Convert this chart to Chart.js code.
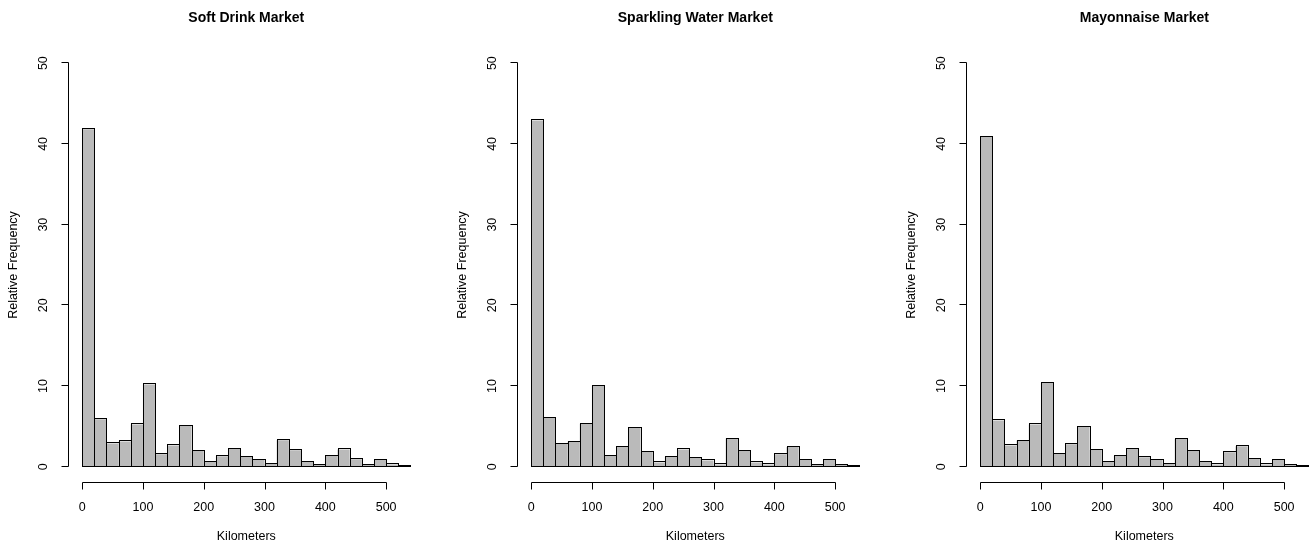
<!DOCTYPE html>
<html>
<head>
<meta charset="utf-8">
<script src="https://cdn.jsdelivr.net/npm/chart.js@4.4.1/dist/chart.umd.min.js"></script>
<style>
  body { margin: 0; background: #fff; width: 1316px; height: 549px; overflow: hidden; position: relative; }
  .panel { position: absolute; top: 0; width: 449px; height: 549px; }
</style>
</head>
<body>
<div class="panel" style="left:0px"><canvas id="chart1" width="449" height="549"></canvas></div>
<div class="panel" style="left:449px"><canvas id="chart2" width="449" height="549"></canvas></div>
<div class="panel" style="left:898px"><canvas id="chart3" width="449" height="549"></canvas></div>
<script>
// histogram bins, 20 km wide
const binStarts = [0, 20, 40, 60, 80, 100, 120, 140, 160, 180, 200, 220, 240, 260,
                   280, 300, 320, 340, 360, 380, 400, 420, 440, 460, 480, 500, 520];
const binWidth = 20;

// relative frequency (%) per bin
const softDrink  = [41.8, 5.9, 2.9, 3.15, 5.25, 10.2, 1.55, 2.65, 5.05, 1.95, 0.65, 1.3, 2.25, 1.25,
                    0.9, 0.35, 3.3, 2.05, 0.6, 0.25, 1.4, 2.15, 0.95, 0.25, 0.9, 0.3, 0.05];
const sparkling  = [42.9, 6.05, 2.85, 3.1, 5.35, 10.05, 1.4, 2.5, 4.85, 1.85, 0.55, 1.25, 2.15, 1.15,
                    0.8, 0.3, 3.5, 1.95, 0.55, 0.3, 1.55, 2.45, 0.85, 0.25, 0.85, 0.25, 0.05];
const mayonnaise = [40.9, 5.75, 2.65, 3.25, 5.25, 10.4, 1.6, 2.8, 4.95, 2.1, 0.65, 1.35, 2.25, 1.2,
                    0.9, 0.35, 3.45, 2.0, 0.65, 0.3, 1.8, 2.55, 1.0, 0.3, 0.9, 0.25, 0.08];

const xTickValues = [0, 100, 200, 300, 400, 500];
const yTickValues = [0, 10, 20, 30, 40, 50];
const panelTitles = ['Soft Drink Market', 'Sparkling Water Market', 'Mayonnaise Market'];
const xTitle = 'Kilometers';
const yTitle = 'Relative Frequency';

const FONT = '"Liberation Sans", Arial, Helvetica, sans-serif';
Chart.defaults.color = '#000';
Chart.defaults.font.family = FONT;

// crisp 1px outline round every bar, shared between neighbours like R's hist()
const histOutline = {
  id: 'histOutline',
  afterDatasetsDraw(chart) {
    const ctx = chart.ctx;
    const meta = chart.getDatasetMeta(0);
    ctx.save();
    ctx.strokeStyle = '#000';
    ctx.lineWidth = 1;
    meta.data.forEach(bar => {
      const p = bar.getProps(['x', 'y', 'base', 'width'], true);
      const l = Math.round(p.x - p.width / 2) + 0.5;
      const r = Math.round(p.x + p.width / 2) + 0.5;
      const t = Math.round(p.y) - 0.5;
      const b = Math.round(p.base) - 0.5;
      ctx.strokeRect(l, t, r - l, b - t);
    });
    ctx.restore();
  }
};

// R style axes: line only from first to last tick, outward ticks, rotated y labels
const rAxes = {
  id: 'rAxes',
  afterDraw(chart, args, opts) {
    const ctx = chart.ctx;
    const xs = chart.scales.x, ys = chart.scales.y, area = chart.chartArea;
    ctx.save();
    ctx.strokeStyle = '#000';
    ctx.fillStyle = '#000';
    ctx.lineWidth = 1;

    // x axis
    const ay = Math.floor(area.bottom) - 0.5;
    const x0 = Math.round(xs.getPixelForValue(xTickValues[0])) + 0.5;
    const x1 = Math.round(xs.getPixelForValue(xTickValues[xTickValues.length - 1])) + 0.5;
    ctx.beginPath();
    ctx.moveTo(x0, ay); ctx.lineTo(x1, ay);
    xTickValues.forEach(v => {
      const px = Math.round(xs.getPixelForValue(v)) + 0.5;
      ctx.moveTo(px, ay); ctx.lineTo(px, ay + 7);
    });
    ctx.stroke();

    // y axis
    const ax = Math.floor(area.left) - 0.5;
    const y0 = Math.round(ys.getPixelForValue(yTickValues[0])) - 0.5;
    const y1 = Math.round(ys.getPixelForValue(yTickValues[yTickValues.length - 1])) - 0.5;
    ctx.beginPath();
    ctx.moveTo(ax, y0); ctx.lineTo(ax, y1);
    yTickValues.forEach(v => {
      const py = Math.round(ys.getPixelForValue(v)) - 0.5;
      ctx.moveTo(ax, py); ctx.lineTo(ax - 7, py);
    });
    ctx.stroke();

    ctx.font = '12.5px ' + FONT;
    ctx.textAlign = 'center';
    ctx.textBaseline = 'middle';
    yTickValues.forEach(v => {
      const py = ys.getPixelForValue(v);
      ctx.save();
      ctx.translate(44, py);
      ctx.rotate(-Math.PI / 2);
      ctx.fillText(String(v), 0, 0);
      ctx.restore();
    });

    // main title centred over the plot region
    ctx.font = 'bold 14px ' + FONT;
    ctx.fillText(opts.title, (area.left + area.right) / 2, 18.5);
    ctx.restore();
  }
};

function makeChart(id, title, values) {
  const points = binStarts.map((b, i) => ({ x: b + binWidth / 2, y: values[i] }));
  return new Chart(document.getElementById(id), {
    type: 'bar',
    data: {
      datasets: [{
        data: points,
        backgroundColor: '#bababa',
        borderWidth: 0,
        inflateAmount: 0,
        barPercentage: 1,
        categoryPercentage: 1
      }]
    },
    options: {
      responsive: false,
      animation: false,
      layout: { padding: { top: 47, right: 25.4, bottom: 0, left: 0 } },
      plugins: {
        legend: { display: false },
        tooltip: { enabled: false },
        rAxes: { title: title }
      },
      scales: {
        x: {
          type: 'linear',
          min: -21.6,
          max: 561.6,
          offset: false,
          grid: { display: false, drawTicks: false },
          border: { display: false },
          afterBuildTicks: s => { s.ticks = xTickValues.map(v => ({ value: v })); },
          afterFit: s => { s.height = 66; },
          ticks: { padding: 17, maxRotation: 0, autoSkip: false, font: { size: 12.5 } },
          title: { display: true, text: xTitle, font: { size: 12.5 }, padding: { top: 0, bottom: 5 } }
        },
        y: {
          min: -2,
          max: 52,
          grid: { display: false, drawTicks: false },
          border: { display: false },
          afterBuildTicks: s => { s.ticks = yTickValues.map(v => ({ value: v })); },
          afterFit: s => { s.width = 69; },
          ticks: { display: false },
          title: { display: true, text: yTitle, font: { size: 12.5 }, padding: { top: 6, bottom: 0 } }
        }
      }
    },
    plugins: [histOutline, rAxes]
  });
}

const chart1 = makeChart('chart1', panelTitles[0], softDrink);
const chart2 = makeChart('chart2', panelTitles[1], sparkling);
const chart3 = makeChart('chart3', panelTitles[2], mayonnaise);
</script>
</body>
</html>
